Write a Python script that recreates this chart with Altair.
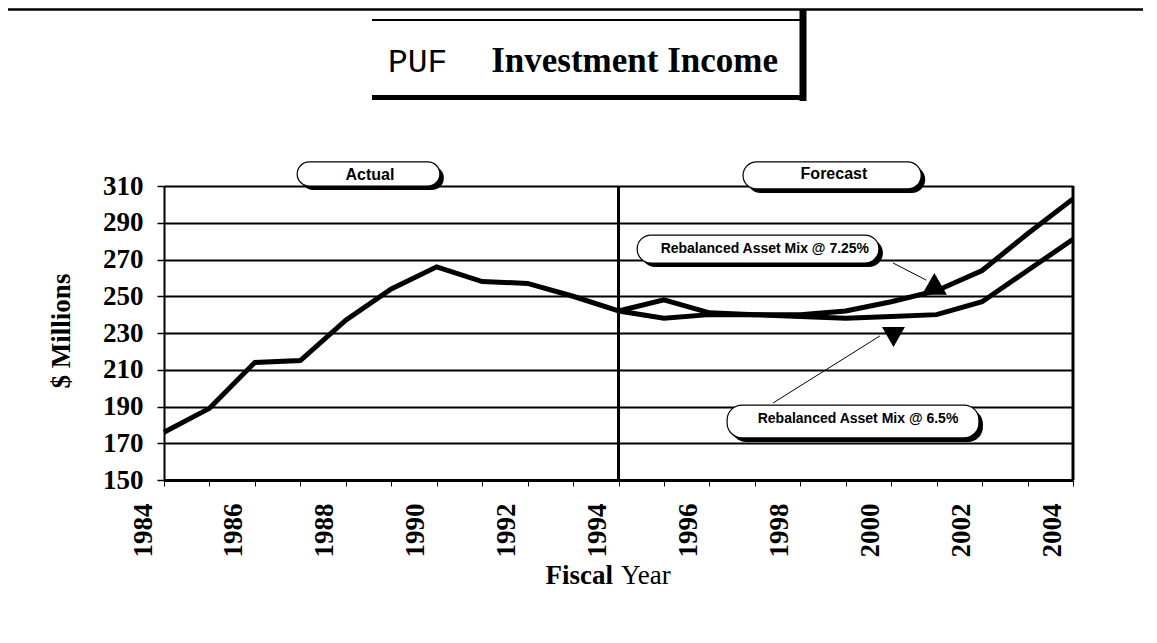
import altair as alt
import pandas as pd

# ---------------- data ----------------
years_actual = list(range(1984, 1995))
income_actual = [176, 189, 214, 215, 237, 254, 266, 258, 257, 250, 242]

years_forecast = list(range(1994, 2005))
income_725 = [242, 248, 241, 240, 240, 242, 247, 253, 264, 284, 303]
income_65 = [242, 238, 240, 240, 239, 238, 239, 240, 247, 264, 281]

y_ticks = [150, 170, 190, 210, 230, 250, 270, 290, 310]
x_ticks = list(range(1984, 2005))

# annotation call-outs (data coordinates)
big_labels = ["Actual", "Forecast"]
big_x1 = [1986.93, 1996.74]
big_x2 = [1990.07, 2000.66]
big_y1 = [310.0, 308.4]
big_y2 = [323.1, 323.1]
big_tx = [1988.53, 1998.74]
big_ty = [316.0, 316.8]

small_labels = ["Rebalanced Asset Mix @ 7.25%", "Rebalanced Asset Mix @ 6.5%"]
small_x1 = [1994.41, 1996.39]
small_x2 = [1999.73, 2001.93]
small_y1 = [268.1, 172.9]
small_y2 = [283.3, 190.8]
small_tx = [1997.22, 1999.27]
small_ty = [275.6, 183.0]

lead_x1 = [2000.04, 1997.40]
lead_y1 = [268.1, 191.9]
lead_x2 = [2000.77, 1999.75]
lead_y2 = [258.8, 228.4]

up_x, up_y = [2000.95], [256.7]
down_x, down_y = [2000.05], [227.8]

divider_year = [1994]
end_year = [2004]

# ---------------- tables ----------------
lines = pd.concat([
    pd.DataFrame({"year": years_actual, "value": income_actual, "series": "Actual"}),
    pd.DataFrame({"year": years_forecast, "value": income_725, "series": "7.25%"}),
    pd.DataFrame({"year": years_forecast, "value": income_65, "series": "6.5%"}),
])
big = pd.DataFrame({"label": big_labels, "x1": big_x1, "x2": big_x2, "y1": big_y1,
                    "y2": big_y2, "tx": big_tx, "ty": big_ty})
small = pd.DataFrame({"label": small_labels, "x1": small_x1, "x2": small_x2, "y1": small_y1,
                      "y2": small_y2, "tx": small_tx, "ty": small_ty})
leads = pd.DataFrame({"x1": lead_x1, "y1": lead_y1, "x2": lead_x2, "y2": lead_y2})
ups = pd.DataFrame({"x": up_x, "y": up_y})
downs = pd.DataFrame({"x": down_x, "y": down_y})
vlines = pd.DataFrame({"x": divider_year + end_year, "lo": [150, 150], "hi": [310, 310]})
one = pd.DataFrame({"k": [0]})

SERIF = "Liberation Serif"
SANS = "Liberation Sans"

xs = alt.Scale(domain=[1984, 2004], nice=False, zero=False)
ys = alt.Scale(domain=[150, 310], nice=False, zero=False)


def X(f):
    return alt.X(f, type="quantitative", scale=xs, title=None)


def Y(f):
    return alt.Y(f, type="quantitative", scale=ys, title=None)


x_axis = alt.Axis(values=x_ticks, tickCount=len(x_ticks), format="d",
                  labelExpr="datum.value % 2 == 0 ? datum.label : ''",
                  labelAngle=270, labelOffset=-21, labelPadding=17, labelFlush=False,
                  labelOverlap=False, labelFont=SERIF, labelFontWeight="bold",
                  labelFontSize=27, labelColor="black", tickSize=6, tickWidth=1,
                  tickColor="black", domainColor="black", domainWidth=3, grid=False,
                  title=None)
y_axis = alt.Axis(values=y_ticks, tickCount=len(y_ticks), grid=True, gridColor="black",
                  gridWidth=2, gridOpacity=1,
                  domainColor="black", domainWidth=2, tickColor="black", tickSize=7,
                  tickWidth=1.5, labelFont=SERIF, labelFontWeight="bold", labelFontSize=27,
                  labelColor="black", labelPadding=14, labelOverlap=False, labelFlush=False,
                  title=None)

line_layer = alt.Chart(lines).mark_line(color="black", strokeWidth=5, strokeJoin="miter").encode(
    x=alt.X("year:Q", scale=xs, axis=x_axis, title=None),
    y=alt.Y("value:Q", scale=ys, axis=y_axis, title=None),
    detail="series:N",
)

vrules = alt.Chart(vlines).mark_rule(color="black", strokeWidth=3).encode(
    x=X("x"), y=Y("lo"), y2="hi")

big_shadow = alt.Chart(big).mark_rect(color="black", cornerRadius=14, xOffset=4, x2Offset=4,
                                      yOffset=4, y2Offset=4).encode(
    x=X("x1"), x2="x2", y=Y("y1"), y2="y2")
big_box = alt.Chart(big).mark_rect(fill="white", stroke="black", strokeWidth=1.2,
                                   cornerRadius=14).encode(
    x=X("x1"), x2="x2", y=Y("y1"), y2="y2")
big_text = alt.Chart(big).mark_text(font=SANS, fontWeight="bold", fontSize=16, color="black",
                                    align="center", baseline="middle").encode(
    x=X("tx"), y=Y("ty"), text="label:N")

small_shadow = alt.Chart(small).mark_rect(color="black", cornerRadius=15, xOffset=4, x2Offset=4,
                                          yOffset=4, y2Offset=4).encode(
    x=X("x1"), x2="x2", y=Y("y1"), y2="y2")
small_box = alt.Chart(small).mark_rect(fill="white", stroke="black", strokeWidth=1.2,
                                       cornerRadius=15).encode(
    x=X("x1"), x2="x2", y=Y("y1"), y2="y2")
small_text = alt.Chart(small).mark_text(font=SANS, fontWeight="bold", fontSize=14, color="black",
                                        align="center", baseline="middle").encode(
    x=X("tx"), y=Y("ty"), text="label:N")

lead_layer = alt.Chart(leads).mark_rule(color="black", strokeWidth=1).encode(
    x=X("x1"), y=Y("y1"), x2="x2", y2="y2")

up_layer = alt.Chart(ups).mark_point(shape="triangle-up", filled=True, color="black",
                                     opacity=1, size=625).encode(x=X("x"), y=Y("y"))
down_layer = alt.Chart(downs).mark_point(shape="triangle-down", filled=True, color="black",
                                         opacity=1, size=529).encode(x=X("x"), y=Y("y"))

# ---------------- page decoration (title frame, axis titles) ----------------
base = alt.Chart(one)
top_rule = base.mark_rule(color="black", strokeWidth=2.5).encode(
    x=alt.value(-156), x2=alt.value(979), y=alt.value(-176.5))
frame_top = base.mark_rule(color="black", strokeWidth=2).encode(
    x=alt.value(208), x2=alt.value(642), y=alt.value(-166))
frame_right = base.mark_rule(color="black", strokeWidth=7).encode(
    x=alt.value(639), y=alt.value(-176), y2=alt.value(-85))
frame_bottom = base.mark_rule(color="black", strokeWidth=5).encode(
    x=alt.value(208), x2=alt.value(642), y=alt.value(-88.5))
title_puf = base.mark_text(text="PUF", font="Courier New, Liberation Mono, monospace",
                           fontSize=33, color="black",
                           align="left", baseline="alphabetic").encode(
    x=alt.value(224), y=alt.value(-114))
title_main = base.mark_text(text="Investment Income", font=SERIF, fontWeight="bold",
                            fontSize=35, color="black", align="right",
                            baseline="alphabetic").encode(
    x=alt.value(614), y=alt.value(-114))
y_title = base.mark_text(text="$ Millions", font=SERIF, fontWeight="bold", fontSize=27,
                         color="black", angle=270, align="center",
                         baseline="middle").encode(x=alt.value(-102), y=alt.value(145))
x_title_a = base.mark_text(text="Fiscal", font=SERIF, fontWeight="bold", fontSize=27,
                           color="black", align="right", baseline="alphabetic").encode(
    x=alt.value(449), y=alt.value(398))
x_title_b = base.mark_text(text="Year", font=SERIF, fontSize=27, color="black",
                           align="left", baseline="alphabetic").encode(
    x=alt.value(457), y=alt.value(398))

chart = alt.layer(
    line_layer, vrules, lead_layer, up_layer, down_layer,
    big_shadow, big_box, big_text, small_shadow, small_box, small_text,
    top_rule, frame_top, frame_right, frame_bottom, title_puf, title_main,
    y_title, x_title_a, x_title_b,
).properties(
    width=909, height=294,
    autosize=alt.AutoSizeParams(type="none"),
    padding={"left": 156, "top": 178, "right": 70, "bottom": 140},
    background="white",
).configure_view(stroke=None)

chart.save("out.html", embed_options={"renderer": "svg", "actions": False})
